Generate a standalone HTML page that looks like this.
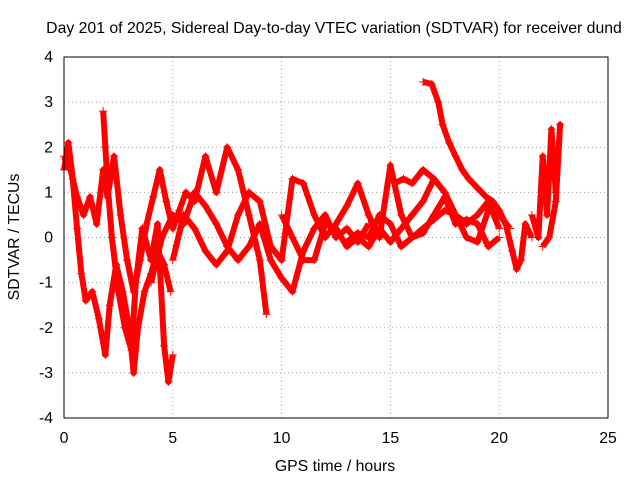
<!DOCTYPE html>
<html><head><meta charset="utf-8"><style>
body{margin:0;background:#fff}
text{font-family:"Liberation Sans",sans-serif;font-size:15.8px;fill:#000}
</style></head><body>
<svg id="chart" width="640" height="480">
<text x="334" y="33" text-anchor="middle">Day 201 of 2025, Sidereal Day-to-day VTEC variation (SDTVAR) for receiver dund</text>
<g id="grid"></g><g id="marks"></g>
<rect x="64" y="57" width="544" height="361" fill="none" stroke="#000" stroke-width="1"/>
<g id="ticks"></g>
<text x="335" y="471" text-anchor="middle">GPS time / hours</text>
<text transform="translate(19,237) rotate(-90)" text-anchor="middle">SDTVAR / TECUs</text>
</svg>
<script>
const xTicks=[0,5,10,15,20,25];
const yTicks=[-4,-3,-2,-1,0,1,2,3,4];
const track1=[[0,1.5],[0.2,2.1],[0.4,1.3],[0.6,0.2],[0.8,-0.8],[1.0,-1.4],[1.3,-1.2],[1.6,-1.8],[1.9,-2.6],[2.1,-1.5],[2.4,-0.6],[2.7,-1.2],[3.0,-2.0],[3.2,-3.0],[3.4,-2.0],[3.7,-1.2],[4.0,-0.8],[4.3,-0.3],[4.6,-0.6],[4.9,-1.2]];
const track2=[[0,1.8],[0.3,1.5],[0.6,0.9],[0.9,0.5],[1.2,0.9],[1.5,0.3],[1.8,1.5],[2.0,0.9],[2.3,1.8],[2.6,0.5],[2.9,-0.5],[3.2,-1.2],[3.5,-0.5],[3.8,0.3],[4.1,0.9],[4.4,1.5],[4.7,0.8],[5.0,0.2],[5.3,0.6],[5.6,1.0],[6.0,0.8],[6.5,1.8],[7.0,1.0],[7.5,2.0],[8.0,1.5],[8.5,0.5],[9.0,-0.5],[9.3,-1.7]];
const track3=[[1.8,2.8],[1.9,2.0],[2.0,1.2],[2.2,0.0],[2.5,-1.2],[2.8,-2.0],[3.1,-2.5],[3.3,-1.0],[3.6,0.2],[4.0,-0.5],[4.3,0.3],[4.6,-2.4],[4.8,-3.2],[5.0,-2.6]];
const track4=[[4.0,-1.0],[4.5,0.0],[5.0,0.5],[5.5,0.3],[6.0,1.0],[6.5,0.7],[7.0,0.3],[7.5,-0.2],[8.0,-0.5],[8.5,-0.2],[9.0,0.3],[9.5,-0.5],[10.0,-0.9],[10.5,-1.2],[11.0,-0.3],[11.5,0.2],[12.0,0.5],[12.5,0.0],[13.0,0.2],[13.5,-0.1],[14.0,0.3]];
const track5=[[5.0,-0.5],[5.5,0.5],[6.0,0.2],[6.5,-0.3],[7.0,-0.6],[7.5,-0.3],[8.0,0.5],[8.5,1.0],[9.0,0.8],[9.5,-0.2],[10.0,-0.5],[10.5,1.3],[11.0,1.2],[11.5,0.5],[12.0,0.0],[12.5,0.3],[13.0,0.7],[13.5,1.2],[14.0,0.5],[14.5,0.0],[15.0,1.6],[15.5,0.5],[16.0,0.0],[16.5,0.1],[17.0,0.5],[17.5,0.9],[18.0,0.3],[18.5,0.4],[19.0,0.3],[19.5,-0.2],[20.0,0.0]];
const track6=[[10.0,0.5],[10.5,0.0],[11.0,-0.5],[11.5,-0.5],[12.0,0.3],[12.5,0.2],[13.0,-0.2],[13.5,0.0],[14.0,-0.2],[14.5,0.2],[15.0,-0.1],[15.5,0.2],[16.0,0.5],[16.5,0.8],[17.0,1.3],[17.5,1.0],[18.0,0.5],[18.5,0.0],[19.0,-0.1],[19.5,0.6],[20.0,0.5],[20.5,0.2]];
const track7=[[13.0,-0.1],[13.5,0.1],[14.0,0.0],[14.5,0.5],[15.0,0.3],[15.5,-0.2],[16.0,0.0],[16.5,0.2],[17.0,0.4],[17.5,0.6],[18.0,0.5],[18.5,0.3],[19.0,0.5],[19.5,0.8],[20.0,0.2]];
const track8=[[21.5,0.5],[21.8,0.0],[22.0,1.8],[22.2,0.5],[22.4,2.4],[22.6,1.0],[22.8,2.5],[22.6,0.8],[22.3,0.0],[22.0,-0.2]];
const track9=[[16.5,3.45],[16.9,3.4],[17.2,3.0],[17.4,2.5],[17.7,2.1],[18.0,1.8],[18.3,1.5],[18.6,1.3],[19.0,1.1],[19.4,0.9],[19.7,0.8],[20.0,0.6],[20.3,0.3],[20.6,-0.3],[20.8,-0.7],[21.0,-0.5],[21.2,0.3],[21.5,0.0]];
const track10=[[15.2,1.2],[15.6,1.3],[16.0,1.2],[16.5,1.5],[17.0,1.3]];
const tracks=[track1,track2,track3,track4,track5,track6,track7,track8,track9,track10];
const X=v=>64+v*544/25, Y=v=>237.5-v*361/8;
const NS='http://www.w3.org/2000/svg';
const grid=document.getElementById('grid'),ticks=document.getElementById('ticks'),marks=document.getElementById('marks');
function mk(tag,attrs,parent){const e=document.createElementNS(NS,tag);for(const k in attrs)e.setAttribute(k,attrs[k]);parent.appendChild(e);return e;}
xTicks.forEach(t=>{
 if(t>0&&t<25){const g=mk('line',{x1:X(t),x2:X(t),y1:57,y2:418,stroke:'#a0a0a0','stroke-dasharray':'1,3'},grid);
 
 }
 const l=mk('text',{x:X(t),y:443,'text-anchor':'middle'},ticks);l.textContent=t;
 
 
});
yTicks.forEach(t=>{
 if(t>-4&&t<4){const g=mk('line',{x1:64,x2:608,y1:Y(t),y2:Y(t),stroke:'#a0a0a0','stroke-dasharray':'1,3'},grid);
 
 }
 const l=mk('text',{x:53,y:Y(t)+5,'text-anchor':'end'},ticks);l.textContent=t;
 
 
});
tracks.forEach((tr,i)=>{
 const p=mk('polyline',{points:tr.map(d=>X(d[0])+','+Y(d[1])).join(' '),fill:'none',stroke:'#ff0000','stroke-width':6,'stroke-linejoin':'round'},marks);
 
 
 tr.forEach(d=>{
  const x=X(d[0]),y=Y(d[1]);
  const m=mk('path',{d:`M${x-4},${y}h8M${x},${y-4}v8`,stroke:'#ff0000','stroke-width':1},marks);
  
  
 });
});
</script>
</body></html>
